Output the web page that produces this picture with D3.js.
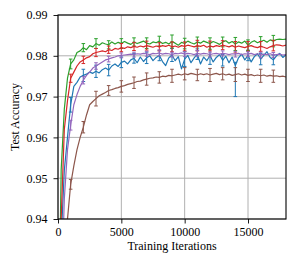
<!DOCTYPE html>
<html>
<head>
<meta charset="utf-8">
<script src="https://cdn.jsdelivr.net/npm/d3@7"></script>
<style>
  body { margin: 0; background: #fff; }
  text { font-family: "Liberation Serif", "Times New Roman", serif; fill: #000; }
</style>
</head>
<body>
<svg id="chart" width="302" height="266"></svg>
<script>
// iterations are sampled every 250 steps, error bars every 1000 steps
const iterStep = 250;
const errIters = [1000, 2000, 3000, 4000, 5000, 6000, 7000, 8000, 9000, 10000,
                  11000, 12000, 13000, 14000, 15000, 16000, 17000];

const xTicks = [0, 5000, 10000, 15000];
const yTicks = [0.94, 0.95, 0.96, 0.97, 0.98, 0.99];

const greenVals = [
  0.900, 0.952, 0.967, 0.9745, 0.9780, 0.9790, 0.9808, 0.9812, 0.9820, 0.9815,
  0.9825, 0.9822, 0.9830, 0.9826, 0.9832, 0.9829, 0.9827, 0.9834, 0.9829, 0.9833,
  0.9830, 0.9835, 0.9831, 0.9828, 0.9834, 0.9830, 0.9833, 0.9836, 0.9831, 0.9829,
  0.9834, 0.9832, 0.9836, 0.9830, 0.9833, 0.9829, 0.9835, 0.9831, 0.9826, 0.9833,
  0.9830, 0.9836, 0.9832, 0.9829, 0.9834, 0.9831, 0.9836, 0.9833, 0.9830, 0.9835,
  0.9832, 0.9828, 0.9834, 0.9837, 0.9831, 0.9835, 0.9829, 0.9834, 0.9831, 0.9836,
  0.9826, 0.9833, 0.9837, 0.9832, 0.9835, 0.9838, 0.9833, 0.9839, 0.9836, 0.9840,
  0.9841, 0.9840, 0.9841
];
const redVals = [
  0.880, 0.940, 0.962, 0.969, 0.9745, 0.9760, 0.9775, 0.9785, 0.9790, 0.9795,
  0.9798, 0.9805, 0.9808, 0.9810, 0.9812, 0.9810, 0.9815, 0.9813, 0.9818, 0.9816,
  0.9820, 0.9818, 0.9822, 0.9820, 0.9823, 0.9821, 0.9824, 0.9822, 0.9825, 0.9823,
  0.9821, 0.9824, 0.9822, 0.9825, 0.9823, 0.9826, 0.9822, 0.9824, 0.9821, 0.9825,
  0.9823, 0.9826, 0.9824, 0.9822, 0.9825, 0.9823, 0.9826, 0.9821, 0.9824, 0.9822,
  0.9825, 0.9823, 0.9826, 0.9824, 0.9822, 0.9825, 0.9821, 0.9824, 0.9822, 0.9820,
  0.9823, 0.9825, 0.9822, 0.9820, 0.9823, 0.9821, 0.9818, 0.9822, 0.9825, 0.9827,
  0.9826, 0.9824, 0.9826
];
const blueVals = [
  0.880, 0.935, 0.952, 0.960, 0.9680, 0.9725, 0.9735, 0.9748, 0.9752, 0.9755,
  0.9760, 0.9757, 0.9762, 0.9758, 0.9766, 0.9770, 0.9765, 0.9775, 0.9780, 0.9774,
  0.9784, 0.9787, 0.9780, 0.9790, 0.9794, 0.9783, 0.9797, 0.9786, 0.9795, 0.9800,
  0.9788, 0.9796, 0.9801, 0.9786, 0.9776, 0.9795, 0.9802, 0.9788, 0.9798, 0.9768,
  0.9792, 0.9801, 0.9783, 0.9795, 0.9804, 0.9780, 0.9797, 0.9788, 0.9801, 0.9785,
  0.9796, 0.9803, 0.9789, 0.9799, 0.9783, 0.9797, 0.9776, 0.9795, 0.9804, 0.9790,
  0.9801, 0.9785, 0.9798, 0.9805, 0.9792, 0.9801, 0.9810, 0.9796, 0.9790, 0.9800,
  0.9806, 0.9796, 0.9803
];
const purpleVals = [
  0.860, 0.920, 0.945, 0.957, 0.963, 0.968, 0.9705, 0.9725, 0.9740, 0.9752,
  0.9760, 0.9770, 0.9775, 0.9780, 0.9785, 0.9790, 0.9792, 0.9795, 0.9797, 0.9800,
  0.9801, 0.9802, 0.9803, 0.9804, 0.9803, 0.9805, 0.9804, 0.9806, 0.9805, 0.9803,
  0.9806, 0.9805, 0.9807, 0.9804, 0.9806, 0.9805, 0.9803, 0.9806, 0.9805, 0.9807,
  0.9804, 0.9806, 0.9805, 0.9803, 0.9806, 0.9804, 0.9806, 0.9805, 0.9803, 0.9805,
  0.9806, 0.9804, 0.9806, 0.9805, 0.9803, 0.9805, 0.9804, 0.9806, 0.9803, 0.9805,
  0.9804, 0.9806, 0.9803, 0.9805, 0.9802, 0.9804, 0.9803, 0.9805, 0.9802, 0.9803,
  0.9804, 0.9802, 0.9803
];
const brownVals = [
  0.800, 0.850, 0.900, 0.9400, 0.9485, 0.9530, 0.9570, 0.9600, 0.9625, 0.9655,
  0.9680, 0.9688, 0.9695, 0.9702, 0.9706, 0.9710, 0.9715, 0.9717, 0.9720, 0.9722,
  0.9725, 0.9727, 0.9730, 0.9732, 0.9734, 0.9737, 0.9738, 0.9741, 0.9743, 0.9745,
  0.9746, 0.9748, 0.9747, 0.9750, 0.9749, 0.9752, 0.9751, 0.9753, 0.9755, 0.9753,
  0.9756, 0.9754, 0.9757, 0.9755, 0.9753, 0.9756, 0.9754, 0.9756, 0.9753, 0.9755,
  0.9757, 0.9754, 0.9756, 0.9753, 0.9755, 0.9752, 0.9754, 0.9756, 0.9753, 0.9755,
  0.9752, 0.9754, 0.9751, 0.9753, 0.9751, 0.9753, 0.9750, 0.9752, 0.9750, 0.9751,
  0.9749, 0.9750, 0.9748
];

// error bar half-widths at errIters
const greenErr  = [0.0012, 0.0010, 0.0012, 0.0010, 0.0012, 0.0010, 0.0013, 0.0012, 0.0016,
                   0.0013, 0.0012, 0.0014, 0.0012, 0.0016, 0.0013, 0.0012, 0.0014];
const redErr    = [0.0010, 0.0009, 0.0010, 0.0009, 0.0010, 0.0010, 0.0011, 0.0010, 0.0012,
                   0.0011, 0.0013, 0.0012, 0.0011, 0.0014, 0.0012, 0.0012, 0.0013];
const blueErr   = [0.0018, 0.0015, 0.0015, 0.0014, 0.0013, 0.0012, 0.0014, 0.0013, 0.0016,
                   0.0018, 0.0013, 0.0022, 0.0014, 0.0008, 0.0013, 0.0014, 0.0012];
const blueErrLow = [0.0018, 0.0015, 0.0015, 0.0014, 0.0013, 0.0012, 0.0014, 0.0013, 0.0016,
                   0.0018, 0.0013, 0.0022, 0.0014, 0.0076, 0.0013, 0.0014, 0.0012];
const purpleErr = [0.0012, 0.0009, 0.0008, 0.0007, 0.0006, 0.0006, 0.0006, 0.0007, 0.0006,
                   0.0006, 0.0007, 0.0006, 0.0006, 0.0007, 0.0006, 0.0007, 0.0006];
const brownErr  = [0.0012, 0.0014, 0.0018, 0.0012, 0.0014, 0.0014, 0.0015, 0.0014, 0.0016,
                   0.0015, 0.0014, 0.0016, 0.0015, 0.0017, 0.0015, 0.0016, 0.0015];

const series = [
  { color: "#1f77b4", values: blueVals, err: blueErr, errLow: blueErrLow },
  { color: "#2ca02c", values: greenVals, err: greenErr },
  { color: "#d62728", values: redVals, err: redErr },
  { color: "#9467bd", values: purpleVals, err: purpleErr },
  { color: "#8c564b", values: brownVals, err: brownErr }
];

const W = 302, H = 266;
const margin = { top: 15, right: 16, bottom: 47, left: 58 };
const width = W - margin.left - margin.right;
const height = H - margin.top - margin.bottom;

const svg = d3.select("#chart");
const g = svg.append("g").attr("transform", `translate(${margin.left},${margin.top})`);

const x = d3.scaleLinear().domain([0, 18000]).range([0, width]);
const y = d3.scaleLinear().domain([0.94, 0.99]).range([height, 0]);

svg.append("defs").append("clipPath").attr("id", "plot-clip")
  .append("rect").attr("width", width).attr("height", height);

// grid
g.append("g").selectAll("line").data(xTicks).join("line")
  .attr("x1", d => x(d)).attr("x2", d => x(d))
  .attr("y1", 0).attr("y2", height)
  .attr("stroke", "#b0b0b0").attr("stroke-width", 1);
g.append("g").selectAll("line").data(yTicks).join("line")
  .attr("x1", 0).attr("x2", width)
  .attr("y1", d => y(d)).attr("y2", d => y(d))
  .attr("stroke", "#b0b0b0").attr("stroke-width", 1);

const line = d3.line()
  .x((d, i) => x(i * iterStep))
  .y(d => y(d));

const plot = g.append("g").attr("clip-path", "url(#plot-clip)");
const capW = 1.8;

series.forEach(s => {
  plot.append("path")
    .datum(s.values)
    .attr("fill", "none")
    .attr("stroke", s.color)
    .attr("stroke-width", 1.2)
    .attr("stroke-linejoin", "round")
    .attr("d", line);

  const bars = errIters.map((it, k) => {
    const v = s.values[it / iterStep];
    const lo = s.errLow ? s.errLow[k] : s.err[k];
    return { it, top: v + s.err[k], bottom: v - lo };
  });
  const eb = plot.append("g").attr("stroke", s.color).attr("stroke-width", 1);
  eb.selectAll(".stem").data(bars).join("line")
    .attr("x1", d => x(d.it)).attr("x2", d => x(d.it))
    .attr("y1", d => y(d.top)).attr("y2", d => y(d.bottom));
  eb.selectAll(".capt").data(bars).join("line")
    .attr("x1", d => x(d.it) - capW).attr("x2", d => x(d.it) + capW)
    .attr("y1", d => y(d.top)).attr("y2", d => y(d.top));
  eb.selectAll(".capb").data(bars).join("line")
    .attr("x1", d => x(d.it) - capW).attr("x2", d => x(d.it) + capW)
    .attr("y1", d => y(d.bottom)).attr("y2", d => y(d.bottom));
});

// axes
const xAxis = g.append("g").attr("transform", `translate(0,${height})`)
  .call(d3.axisBottom(x).tickValues(xTicks).tickSize(4.5).tickPadding(4).tickFormat(d3.format("d")));
const yAxis = g.append("g")
  .call(d3.axisLeft(y).tickValues(yTicks).tickSize(4.5).tickPadding(6).tickFormat(d3.format(".2f")));
[xAxis, yAxis].forEach(a => {
  a.select(".domain").remove();
  a.selectAll("text").attr("font-size", 12).attr("font-family", "Liberation Serif");
  a.selectAll(".tick line").attr("stroke", "#000").attr("stroke-width", 0.9);
});

g.append("rect")
  .attr("width", width).attr("height", height)
  .attr("fill", "none").attr("stroke", "#000").attr("stroke-width", 1.1);

g.append("text")
  .attr("x", width / 2).attr("y", height + 31)
  .attr("text-anchor", "middle").attr("font-size", 12)
  .text("Training Iterations");

g.append("text")
  .attr("transform", `translate(${-39.5},${height / 2}) rotate(-90)`)
  .attr("text-anchor", "middle").attr("font-size", 12)
  .text("Test Accuracy");
</script>
</body>
</html>
